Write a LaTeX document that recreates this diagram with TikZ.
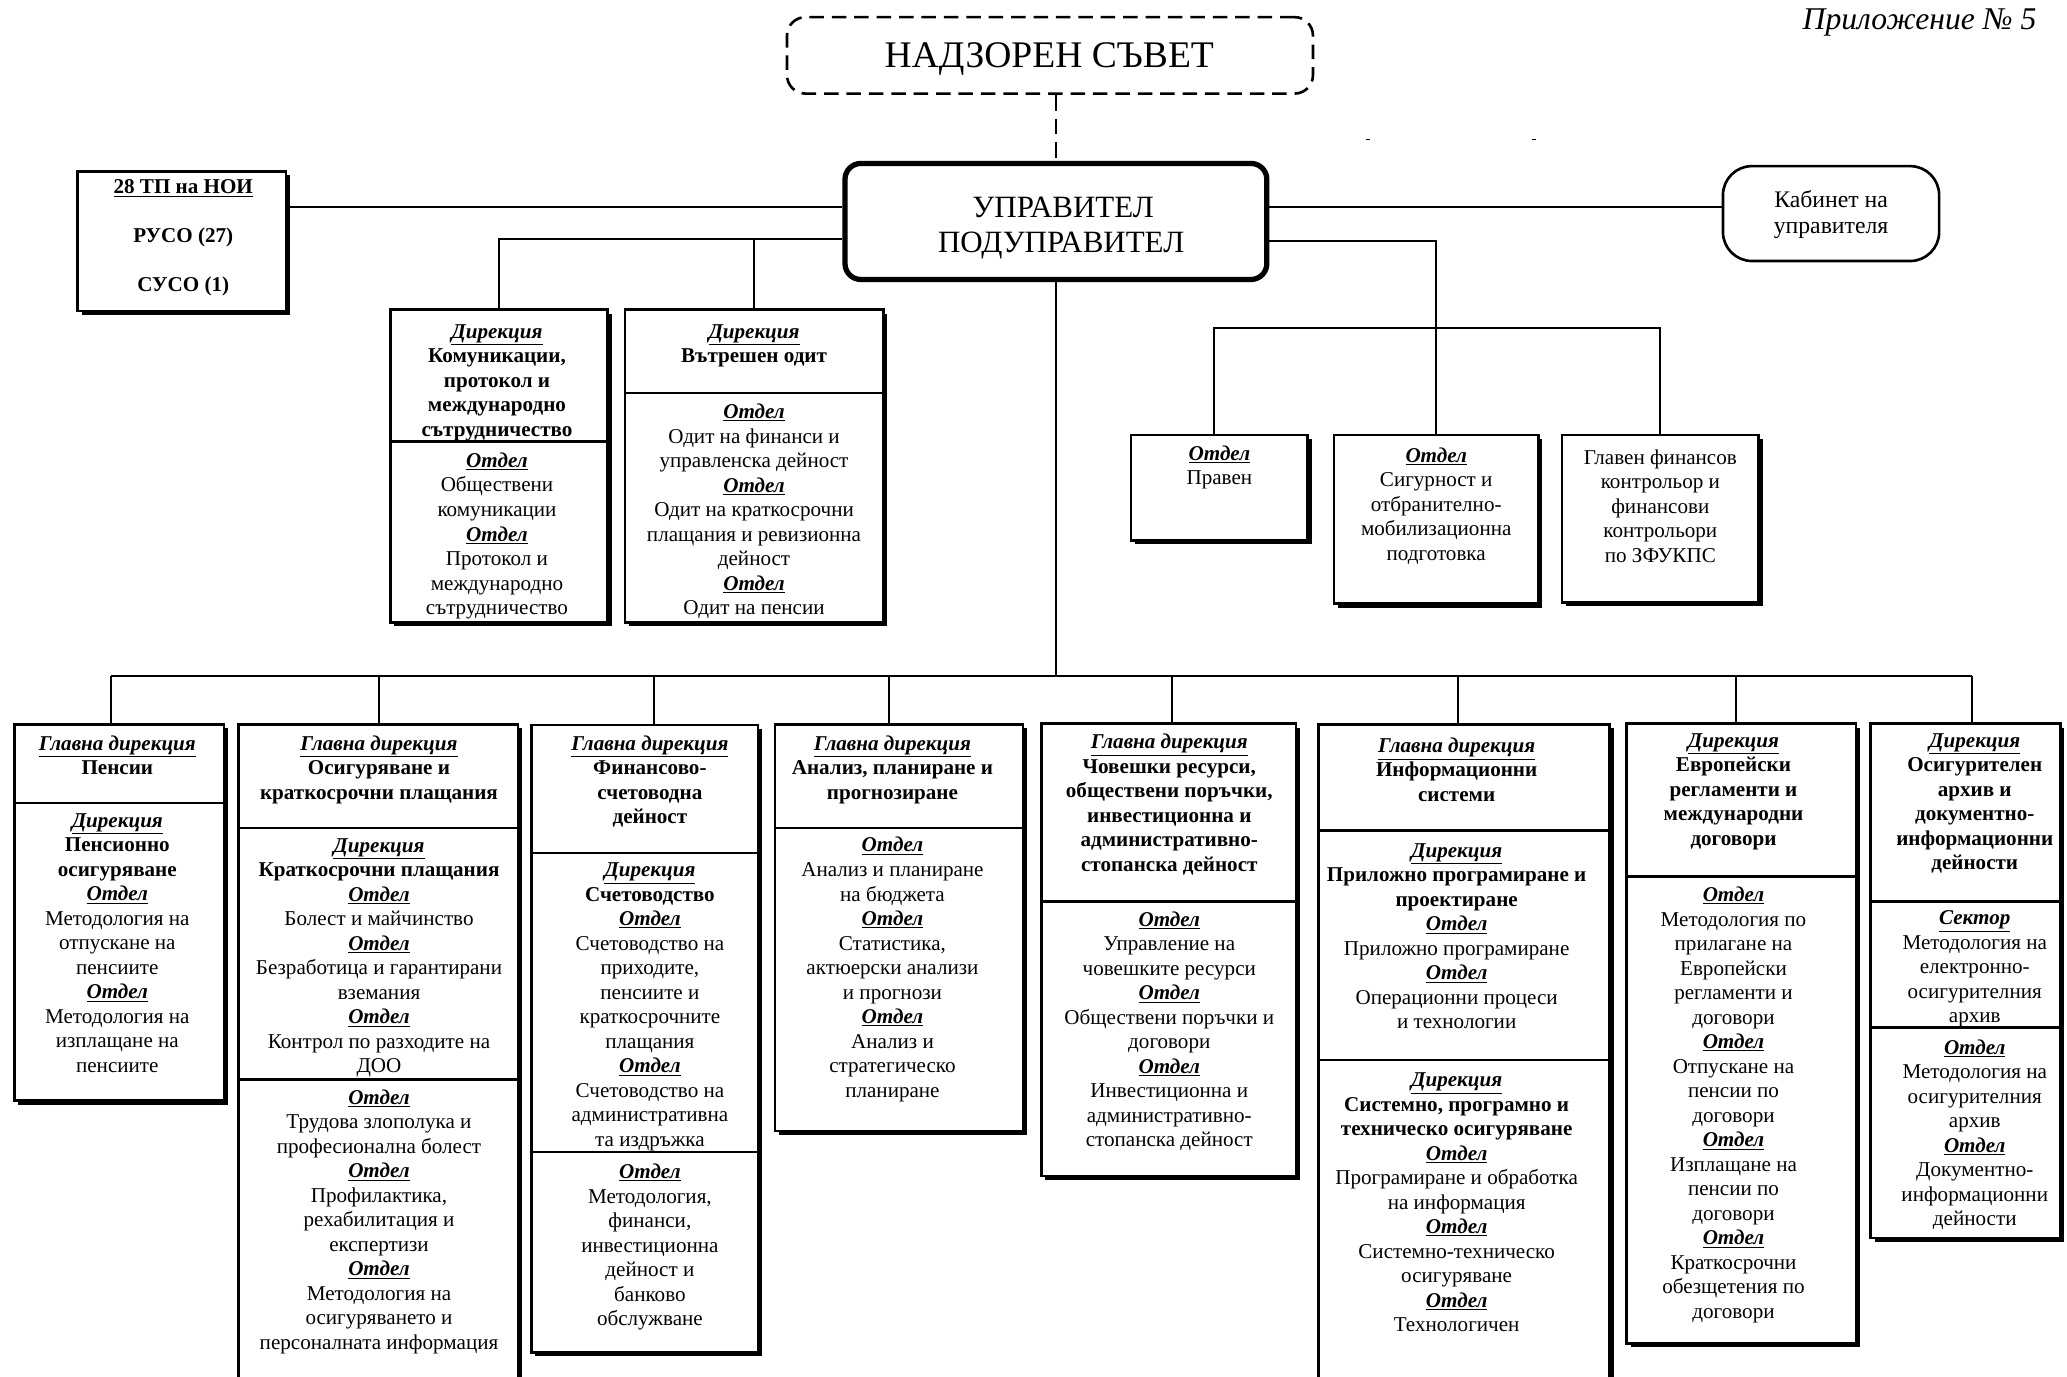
\documentclass[tikz,border=0pt]{standalone}
\usepackage{fontspec}
\setmainfont{Liberation Serif}
\usetikzlibrary{shadows}
\newcommand\ulh[1]{\underline{\textbf{\textit{#1}}}}
\tikzset{
  obox/.style={draw, line width=2pt, fill=white, inner sep=0pt,
    drop shadow={shadow xshift=3pt, shadow yshift=-3pt, fill=black, opacity=1}},
  kabbox/.style={draw, line width=2pt, fill=white, inner sep=0pt, rounded corners=22pt},
  conn/.style={line width=1.6pt},
  divline/.style={line width=2pt},
  txt/.style={anchor=north, align=center, inner sep=0pt, yshift=-2.8pt,
    font=\fontsize{16}{18.6}\selectfont, execute at begin node={\rule{0pt}{13pt}}},
}
\begin{document}
\begin{tikzpicture}[x=1pt,y=-1pt]
\useasboundingbox (0,0) rectangle (1568,1044);
\clip (0,0) rectangle (1568,1044);

% ---------- top ----------
\node[anchor=base east, inner sep=0pt, font=\itshape\fontsize{24}{28}\selectfont] (pril) at (1545,22.3) {Приложение № 5};

\node[draw, line width=2pt, dash pattern=on 11pt off 6pt, rounded corners=14pt,
  minimum width=399pt, minimum height=58pt, inner sep=0pt] (nad) at (796.5,42) {};
\node[anchor=base, inner sep=0pt, font=\fontsize{28.5}{32}\selectfont] (nadt) at (796,51.4) {НАДЗОРЕН СЪВЕТ};

\node[draw, line width=4pt, rounded corners=12pt, fill=white,
  minimum width=320pt, minimum height=88pt, inner sep=0pt] (mgr) at (801,168) {};
\node[anchor=base, inner sep=0pt, font=\fontsize{23.5}{27}\selectfont] (mgr1) at (806.5,164.8) {УПРАВИТЕЛ};
\node[anchor=base, inner sep=0pt, font=\fontsize{23.5}{27}\selectfont] (mgr2) at (805,191.8) {ПОДУПРАВИТЕЛ};

\draw[line width=2pt, dash pattern=on 12pt off 6pt] (mgr.north |- nad.south) -- (mgr.north);

\draw[line width=1pt] (1036,106) -- (1039,106);
\draw[line width=1pt] (1162.5,106) -- (1165.5,106);

% boxes top
\node[obox, minimum width=158pt, minimum height=106pt] (tp) at (138,183) {};
\node[txt, font=\bfseries\fontsize{16}{37.2}\selectfont] (tpt) at (139,133.4)
  {\underline{28 ТП на НОИ}\\РУСО (27)\\СУСО (1)};

\node[kabbox, minimum width=164pt, minimum height=72pt] (kab) at (1389,162) {};
\node[txt, font=\fontsize{18}{20}\selectfont] (kabt) at (1389,141.2) {Кабинет на\\управителя};

\node[obox, minimum width=165pt, minimum height=237pt] (kom) at (378.5,353.5) {};
\draw[divline] (296,335) -- (461,335);
\node[txt] (kom1) at (377,243) {\ulh{Дирекция}\\\textbf{Комуникации,}\\\textbf{протокол и}\\\textbf{международно}\\\textbf{сътрудничество}};
\node[txt] (kom2) at (377,340.5) {\ulh{Отдел}\\Обществени\\комуникации\\\ulh{Отдел}\\Протокол и\\международно\\сътрудничество};

\node[obox, minimum width=196pt, minimum height=237pt] (odit) at (572,353.5) {};
\draw[divline] (474,298) -- (670,298);
\node[txt] (odit1) at (572,243) {\ulh{Дирекция}\\\textbf{Вътрешен одит}};
\node[txt] (odit2) at (572,303.5) {\ulh{Отдел}\\Одит на финанси и\\управленска дейност\\\ulh{Отдел}\\Одит на краткосрочни\\плащания и ревизионна\\дейност\\\ulh{Отдел}\\Одит на пенсии};

\node[obox, minimum width=134pt, minimum height=80pt] (prav) at (925,370) {};
\node[txt] (pravt) at (925,335) {\ulh{Отдел}\\Правен};

\node[obox, minimum width=155pt, minimum height=128pt] (sig) at (1089.5,394) {};
\node[txt] (sigt) at (1089.5,336.5) {\ulh{Отдел}\\Сигурност и\\отбранително-\\мобилизационна\\подготовка};

\node[obox, minimum width=149pt, minimum height=127pt] (glav) at (1259.5,393.5) {};
\node[txt] (glavt) at (1259.5,338) {Главен финансов\\контрольор и\\финансови\\контрольори\\по ЗФУКПС};

% connectors top
\coordinate (tpR) at ([yshift=26pt]tp.east);
\draw[conn] (tpR) -- (tpR -| mgr.west);
\coordinate (mL) at ([yshift=-13pt]mgr.west);
\draw[conn] (mL) -| (kom.north);
\draw[conn] (mL -| odit.north) -- (odit.north);
\coordinate (mR1) at ([yshift=11pt]mgr.east);
\draw[conn] (mR1) -- (mR1 -| kab.west);
\coordinate (mR2) at ([yshift=-15pt]mgr.east);
\draw[conn] (mR2) -| (sig.north);
\path (sig.north) ++(0,-80) coordinate (jR);
\coordinate (pravT) at ([xshift=-4pt]prav.north);
\draw[conn] (pravT) |- (jR) -| (glav.north);

% ---------- bottom boxes ----------
\node[obox, minimum width=159pt, minimum height=285.5pt] (pens) at (90.5,692.25) {};
\draw[divline] (11,609) -- (170,609);
\node[txt] (pens1) at (89,555) {\ulh{Главна дирекция}\\\textbf{Пенсии}};
\node[txt] (pens2) at (89,614) {\ulh{Дирекция}\\\textbf{Пенсионно}\\\textbf{осигуряване}\\\ulh{Отдел}\\Методология на\\отпускане на\\пенсиите\\\ulh{Отдел}\\Методология на\\изплащане на\\пенсиите};

\node[obox, minimum width=212pt, minimum height=510.5pt] (osig) at (287,804.75) {};
\draw[divline] (181,628) -- (393,628);
\draw[divline] (181,819) -- (393,819);
\node[txt] (osig1) at (287.5,555) {\ulh{Главна дирекция}\\\textbf{Осигуряване и}\\\textbf{краткосрочни плащания}};
\node[txt] (osig2) at (287.5,633) {\ulh{Дирекция}\\\textbf{Краткосрочни плащания}\\\ulh{Отдел}\\Болест и майчинство\\\ulh{Отдел}\\Безработица и гарантирани\\вземания\\\ulh{Отдел}\\Контрол по разходите на\\ДОО};
\node[txt] (osig3) at (287.5,823.5) {\ulh{Отдел}\\Трудова злополука и\\професионална болест\\\ulh{Отдел}\\Профилактика,\\рехабилитация и\\експертизи\\\ulh{Отдел}\\Методология на\\осигуряването и\\персоналната информация};

\node[obox, minimum width=172pt, minimum height=476pt] (fin) at (489,788) {};
\draw[divline] (403,647) -- (575,647);
\draw[divline] (403,874) -- (575,874);
\node[txt] (fin1) at (493,555) {\ulh{Главна дирекция}\\\textbf{Финансово-}\\\textbf{счетоводна}\\\textbf{дейност}};
\node[txt] (fin2) at (493,651.5) {\ulh{Дирекция}\\\textbf{Счетоводство}\\\ulh{Отдел}\\Счетоводство на\\приходите,\\пенсиите и\\краткосрочните\\плащания\\\ulh{Отдел}\\Счетоводство на\\административна\\та издръжка};
\node[txt] (fin3) at (493,880) {\ulh{Отдел}\\Методология,\\финанси,\\инвестиционна\\дейност и\\банково\\обслужване};

\node[obox, minimum width=188pt, minimum height=308.5pt] (anl) at (682,703.75) {};
\draw[divline] (588,628) -- (776,628);
\node[txt] (anl1) at (677,555) {\ulh{Главна дирекция}\\\textbf{Анализ, планиране и}\\\textbf{прогнозиране}};
\node[txt] (anl2) at (677,632.2) {\ulh{Отдел}\\Анализ и планиране\\на бюджета\\\ulh{Отдел}\\Статистика,\\актюерски анализи\\и прогнози\\\ulh{Отдел}\\Анализ и\\стратегическо\\планиране};

\node[obox, minimum width=193pt, minimum height=343pt] (chov) at (886.5,720.5) {};
\draw[divline] (790,684) -- (983,684);
\node[txt] (chov1) at (887,554) {\ulh{Главна дирекция}\\\textbf{Човешки ресурси,}\\\textbf{обществени поръчки,}\\\textbf{инвестиционна и}\\\textbf{административно-}\\\textbf{стопанска дейност}};
\node[txt] (chov2) at (887,688.5) {\ulh{Отдел}\\Управление на\\човешките ресурси\\\ulh{Отдел}\\Обществени поръчки и\\договори\\\ulh{Отдел}\\Инвестиционна и\\административно-\\стопанска дейност};

\node[obox, minimum width=221pt, minimum height=510.5pt] (inf) at (1110.5,804.75) {};
\draw[divline] (1000,630) -- (1221,630);
\draw[divline] (1000,804) -- (1221,804);
\node[txt] (inf1) at (1105,556.7) {\ulh{Главна дирекция}\\\textbf{Информационни}\\\textbf{системи}};
\node[txt] (inf2) at (1105,636.8) {\ulh{Дирекция}\\\textbf{Приложно програмиране и}\\\textbf{проектиране}\\\ulh{Отдел}\\Приложно програмиране\\\ulh{Отдел}\\Операционни процеси\\и технологии};
\node[txt] (inf3) at (1105,810.7) {\ulh{Дирекция}\\\textbf{Системно, програмно и}\\\textbf{техническо осигуряване}\\\ulh{Отдел}\\Програмиране и обработка\\на информация\\\ulh{Отдел}\\Системно-техническо\\осигуряване\\\ulh{Отдел}\\Технологичен};

\node[obox, minimum width=174pt, minimum height=470pt] (evr) at (1321,784) {};
\draw[divline] (1234,665) -- (1408,665);
\node[txt] (evr1) at (1315,553.2) {\ulh{Дирекция}\\\textbf{Европейски}\\\textbf{регламенти и}\\\textbf{международни}\\\textbf{договори}};
\node[txt] (evr2) at (1315,669.8) {\ulh{Отдел}\\Методология по\\прилагане на\\Европейски\\регламенти и\\договори\\\ulh{Отдел}\\Отпускане на\\пенсии по\\договори\\\ulh{Отдел}\\Изплащане на\\пенсии по\\договори\\\ulh{Отдел}\\Краткосрочни\\обезщетения по\\договори};

\node[obox, minimum width=144pt, minimum height=390pt] (arh) at (1491,744) {};
\draw[divline] (1419,684) -- (1563,684);
\draw[divline] (1419,779.5) -- (1563,779.5);
\node[txt] (arh1) at (1498,553.2) {\ulh{Дирекция}\\\textbf{Осигурителен}\\\textbf{архив и}\\\textbf{документно-}\\\textbf{информационни}\\\textbf{дейности}};
\node[txt] (arh2) at (1498,688) {\ulh{Сектор}\\Методология на\\електронно-\\осигурителния\\архив};
\node[txt] (arh3) at (1498,785.7) {\ulh{Отдел}\\Методология на\\осигурителния\\архив\\\ulh{Отдел}\\Документно-\\информационни\\дейности};

% ---------- bottom connectors ----------
\path (mgr.south) ++(0,299) coordinate (bus);
\draw[conn] (mgr.south) -- (bus);
\foreach \n/\dx in {pens/-6.5,osig/0.6,fin/7.4,anl/-7.5,chov/2.3,inf/-4.3,evr/-4.3,arh/4.6}{
  \coordinate (t\n) at ([xshift=\dx pt]\n.north);
  \draw[conn] (t\n |- bus) -- (t\n);
}
\draw[conn] (tpens |- bus) -- (tarh |- bus);
\end{tikzpicture}
\end{document}
